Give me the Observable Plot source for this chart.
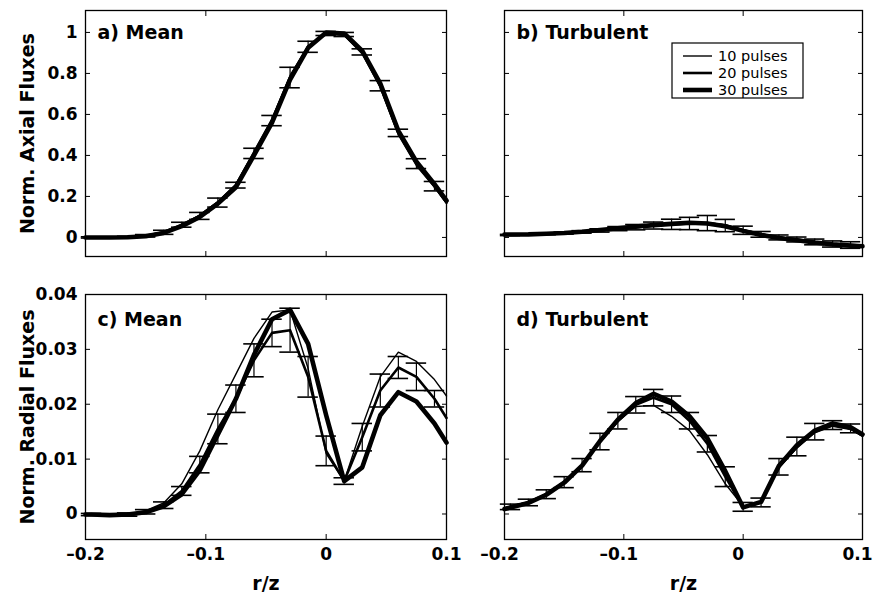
<!DOCTYPE html>
<html>
<head>
<meta charset="utf-8">
<script src="https://cdn.jsdelivr.net/npm/d3@7"></script>
<script src="https://cdn.jsdelivr.net/npm/@observablehq/plot@0.6"></script>
<style>
  body { margin: 0; background: #fff; }
  #root { position: relative; width: 875px; height: 593px; background: #fff; font-family: "DejaVu Sans", sans-serif; overflow: hidden; }
  #root .p { position: absolute; }
  #root g[aria-label$="axis label"] { font-size: 19px; }
  .legend { position: absolute; overflow: visible; }
</style>
</head>
<body>
<div id="root"></div>
<script>
// ---- data ----
const rz = [-0.2, -0.195, -0.18, -0.165, -0.15, -0.135, -0.12, -0.105, -0.09, -0.075, -0.06, -0.045, -0.03, -0.015, 0, 0.015, 0.03, 0.045, 0.06, 0.075, 0.09, 0.1];

// a) Mean axial
const axialMean10 = [0, 0, 0, 0.003, 0.01, 0.028, 0.06, 0.11, 0.175, 0.26, 0.42, 0.58, 0.79, 0.935, 0.995, 0.985, 0.895, 0.73, 0.5, 0.35, 0.245, 0.165];
const axialMean20 = [0, 0, 0, 0.002, 0.008, 0.025, 0.062, 0.105, 0.17, 0.255, 0.41, 0.57, 0.78, 0.93, 0.995, 0.99, 0.905, 0.74, 0.51, 0.36, 0.25, 0.17];
const axialMean30 = [0, 0, 0, 0.001, 0.006, 0.022, 0.055, 0.1, 0.165, 0.245, 0.4, 0.56, 0.77, 0.925, 1.0, 0.995, 0.91, 0.75, 0.52, 0.37, 0.26, 0.18];
const axialMeanErr = [null, 0.003, 0.003, 0.004, 0.006, 0.01, 0.012, 0.017, 0.022, 0.014, 0.025, 0.025, 0.05, 0.027, 0.01, 0.01, 0.015, 0.025, 0.018, 0.024, 0.023, null];

// b) Turbulent axial
const axialTurb10 = [0.01, 0.011, 0.013, 0.016, 0.02, 0.025, 0.032, 0.04, 0.046, 0.055, 0.062, 0.064, 0.072, 0.062, 0.038, 0.018, 0.002, -0.008, -0.02, -0.03, -0.035, -0.038];
const axialTurb20 = [0.012, 0.012, 0.014, 0.017, 0.021, 0.027, 0.034, 0.043, 0.05, 0.058, 0.064, 0.068, 0.07, 0.058, 0.035, 0.015, 0.0, -0.01, -0.022, -0.032, -0.037, -0.04];
const axialTurb30 = [0.014, 0.014, 0.015, 0.018, 0.022, 0.028, 0.036, 0.045, 0.053, 0.06, 0.066, 0.072, 0.068, 0.055, 0.032, 0.012, -0.003, -0.014, -0.025, -0.034, -0.04, -0.043];
const axialTurbErr = [null, 0.003, 0.003, 0.004, 0.005, 0.006, 0.008, 0.01, 0.013, 0.017, 0.025, 0.03, 0.037, 0.03, 0.02, 0.014, 0.012, 0.012, 0.014, 0.015, 0.016, null];

// c) Mean radial
const radialMean10 = [-0.0001, -0.0001, -0.0002, -0.0001, 0.0006, 0.002, 0.0055, 0.0115, 0.019, 0.0255, 0.032, 0.0368, 0.0372, 0.0265, 0.011, 0.006, 0.016, 0.025, 0.0295, 0.0278, 0.0245, 0.0215];
const radialMean20 = [-0.0001, -0.0001, -0.0002, -0.0001, 0.0004, 0.0016, 0.0042, 0.009, 0.0155, 0.021, 0.028, 0.033, 0.0335, 0.025, 0.0115, 0.006, 0.014, 0.0225, 0.0267, 0.025, 0.021, 0.0175];
const radialMean30 = [-0.0001, -0.0001, -0.0002, -0.0001, 0.0003, 0.0014, 0.0036, 0.008, 0.0145, 0.021, 0.029, 0.0355, 0.0372, 0.031, 0.018, 0.006, 0.0085, 0.018, 0.0222, 0.0205, 0.0165, 0.013];
const radialMeanErr = [null, 0.0002, 0.0002, 0.0003, 0.0004, 0.0006, 0.0008, 0.0015, 0.0027, 0.0025, 0.003, 0.0025, 0.004, 0.0037, 0.0027, 0.0006, 0.0025, 0.003, 0.002, 0.0025, 0.0015, null];

// d) Turbulent radial
const radialTurb10 = [0.0011, 0.0014, 0.0022, 0.0037, 0.0059, 0.009, 0.013, 0.0168, 0.0196, 0.0198, 0.0178, 0.0152, 0.0108, 0.0055, 0.0014, 0.002, 0.0084, 0.012, 0.0148, 0.016, 0.0154, 0.0142];
const radialTurb20 = [0.001, 0.0013, 0.0021, 0.0036, 0.0058, 0.0089, 0.0132, 0.017, 0.0199, 0.0212, 0.02, 0.017, 0.0128, 0.0068, 0.0013, 0.0021, 0.0086, 0.0123, 0.015, 0.0162, 0.0156, 0.0143];
const radialTurb30 = [0.0009, 0.0012, 0.002, 0.0035, 0.0057, 0.0088, 0.0133, 0.0172, 0.0202, 0.0219, 0.0205, 0.0178, 0.0138, 0.0078, 0.0012, 0.0022, 0.0088, 0.0125, 0.0152, 0.0165, 0.0158, 0.0145];
const radialTurbErr = [null, 0.0005, 0.0006, 0.0008, 0.001, 0.0012, 0.0015, 0.0015, 0.0015, 0.0015, 0.0015, 0.0015, 0.0015, 0.0018, 0.0008, 0.0008, 0.0015, 0.0017, 0.0015, 0.0008, 0.0008, null];

const xTicks = [-0.2, -0.1, 0, 0.1];
const axialTicks = [0, 0.2, 0.4, 0.6, 0.8, 1];
const radialTicks = [0, 0.01, 0.02, 0.03, 0.04];
const seriesNames = ["10 pulses", "20 pulses", "30 pulses"];
const seriesWidths = [1.4, 2.6, 4.6];

// ---- drawing ----
const FONT = "DejaVu Sans, sans-serif";
const fmt = d => d3.format("~g")(d).replace("\u2212", "\u2013");

function panel(o) {
  const rows = rz.map((x, i) => ({x, s10: o.s10[i], s20: o.s20[i], s30: o.s30[i], e: o.err[i]}));
  const eb = rows.filter(d => d.e != null);
  const cap = 0.0085;
  const blank = () => "";
  return Plot.plot({
    width: o.w, height: o.h,
    marginLeft: o.ml, marginRight: o.mr, marginTop: o.mt, marginBottom: o.mb,
    style: {fontFamily: FONT, color: "#000", background: "transparent", overflow: "visible"},
    x: {domain: [-0.2, 0.1]},
    y: {domain: o.yDomain},
    marks: [
      Plot.ruleX(eb, {x: "x", y1: d => d.s20 - d.e, y2: d => d.s20 + d.e, stroke: "#000", strokeWidth: 1.2}),
      Plot.ruleY(eb, {y: d => d.s20 + d.e, x1: d => d.x - cap, x2: d => d.x + cap, stroke: "#000", strokeWidth: 1.6}),
      Plot.ruleY(eb, {y: d => d.s20 - d.e, x1: d => d.x - cap, x2: d => d.x + cap, stroke: "#000", strokeWidth: 1.6}),
      Plot.line(rows, {x: "x", y: "s10", stroke: "#000", strokeWidth: seriesWidths[0]}),
      Plot.line(rows, {x: "x", y: "s20", stroke: "#000", strokeWidth: seriesWidths[1]}),
      Plot.line(rows, {x: "x", y: "s30", stroke: "#000", strokeWidth: seriesWidths[2]}),
      Plot.frame({stroke: "#000", strokeWidth: 1.3}),
      Plot.axisY({ticks: o.yTicks, tickSize: -5, tickPadding: 13, tickFormat: o.yLab ? fmt : blank,
        fontSize: 17, fontWeight: "bold", label: o.yLabel ?? null, labelAnchor: "center", labelOffset: 65, labelArrow: "none"}),
      Plot.axisY({anchor: "right", ticks: o.yTicks, tickSize: -5, tickFormat: blank, label: null}),
      Plot.axisX({ticks: xTicks, tickSize: -5, tickFormat: blank, label: null}),
      o.xLab ? Plot.axisX({ticks: xTicks, tickSize: 0, tickPadding: 8, tickFormat: fmt, dx: o.xdx ?? 0,
        fontSize: 17, fontWeight: "bold", label: "r/z", labelAnchor: "center", labelOffset: 50, labelArrow: "none"}) : null,
      Plot.axisX({anchor: "top", ticks: xTicks, tickSize: -5, tickFormat: blank, label: null}),
      Plot.text([o.title], {text: d => d, frameAnchor: "top-left", dx: 12, dy: o.tdy, textAnchor: "start",
        lineAnchor: "middle", fontSize: 19, fontWeight: "bold", fill: "#000"})
    ]
  });
}

const root = document.getElementById("root");
function place(node, left, top) {
  const d = document.createElement("div");
  d.className = "p";
  d.style.left = left + "px";
  d.style.top = top + "px";
  d.appendChild(node);
  root.appendChild(d);
}

place(panel({s10: axialMean10, s20: axialMean20, s30: axialMean30, err: axialMeanErr,
  yDomain: [-0.093, 1.107], yTicks: axialTicks, yLab: true, xLab: false, yLabel: "Norm. Axial Fluxes",
  title: "a) Mean", tdy: 22, w: 470, h: 270, ml: 85, mr: 24, mt: 10, mb: 14}), 0, 0);

place(panel({s10: axialTurb10, s20: axialTurb20, s30: axialTurb30, err: axialTurbErr,
  yDomain: [-0.093, 1.107], yTicks: axialTicks, yLab: false, xLab: false,
  title: "b) Turbulent", tdy: 22, w: 405, h: 270, ml: 34, mr: 13, mt: 10, mb: 14}), 470, 0);

place(panel({s10: radialMean10, s20: radialMean20, s30: radialMean30, err: radialMeanErr,
  yDomain: [-0.00465, 0.04], yTicks: radialTicks, yLab: true, xLab: true, yLabel: "Norm. Radial Fluxes",
  title: "c) Mean", tdy: 25, w: 470, h: 323, ml: 85, mr: 24, mt: 24, mb: 54}), 0, 270);

place(panel({s10: radialTurb10, s20: radialTurb20, s30: radialTurb30, err: radialTurbErr,
  yDomain: [-0.00465, 0.04], yTicks: radialTicks, yLab: false, xLab: true, xdx: -5,
  title: "d) Turbulent", tdy: 25, w: 405, h: 323, ml: 34, mr: 13, mt: 24, mb: 54}), 470, 270);

// legend (inside panel b)
const ns = "http://www.w3.org/2000/svg";
const lsvg = document.createElementNS(ns, "svg");
lsvg.setAttribute("class", "legend");
lsvg.setAttribute("width", 134); lsvg.setAttribute("height", 58);
Object.assign(lsvg.style, {left: "671px", top: "42px"});
const box = document.createElementNS(ns, "rect");
box.setAttribute("x", 1); box.setAttribute("y", 1);
box.setAttribute("width", 131); box.setAttribute("height", 55);
box.setAttribute("fill", "#fff"); box.setAttribute("stroke", "#000"); box.setAttribute("stroke-width", 1.2);
lsvg.appendChild(box);
seriesNames.forEach((name, i) => {
  const cy = 14 + i * 17;
  const ln = document.createElementNS(ns, "line");
  ln.setAttribute("x1", 12); ln.setAttribute("x2", 41);
  ln.setAttribute("y1", cy); ln.setAttribute("y2", cy);
  ln.setAttribute("stroke", "#000"); ln.setAttribute("stroke-width", seriesWidths[i]);
  lsvg.appendChild(ln);
  const t = document.createElementNS(ns, "text");
  t.setAttribute("x", 47); t.setAttribute("y", cy);
  t.setAttribute("dy", "0.35em");
  t.setAttribute("font-family", FONT); t.setAttribute("font-size", 14.5);
  t.textContent = name;
  lsvg.appendChild(t);
});
root.appendChild(lsvg);
</script>
</body>
</html>
